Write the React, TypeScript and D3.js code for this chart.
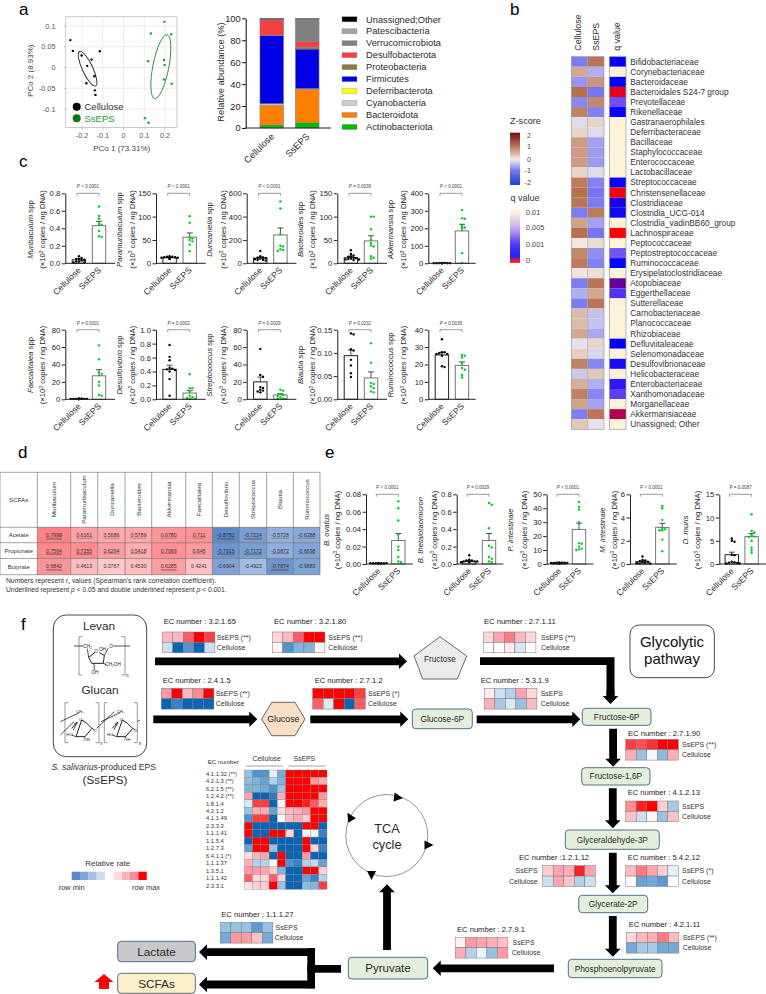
import { useEffect, useRef } from "react";
import * as d3 from "d3";

const FONT = "'Liberation Sans', Arial, sans-serif";
const GROUPS = ["Cellulose", "SsEPS"];

// panel a: PCoA
const pcoaCellulose = [[-0.256, 0.066], [-0.244, 0.04], [-0.202, 0.029], [-0.154, 0.019], [-0.175, 0.004], [-0.114, 0.039], [-0.141, -0.021], [-0.179, -0.038], [-0.138, -0.055], [-0.135, -0.066]];
const pcoaSsEPS = [[0.197, 0.11], [0.132, 0.082], [0.23, 0.08], [0.119, 0.015], [0.195, 0.018], [0.198, 0.006], [0.195, -0.029], [0.232, -0.039], [0.103, -0.122], [0.121, -0.133]];
const pcoaXTicks = [-0.2, -0.1, 0, 0.1, 0.2];
const pcoaYTicks = [-0.1, -0.05, 0, 0.05, 0.1];

// panel a: phyla, bottom of the stack first
const phyla = ["Actinobacteriota", "Bacteroidota", "Cyanobacteria", "Deferribacterota", "Firmicutes", "Proteobacteria", "Desulfobacterota", "Verrucomicrobiota", "Patescibacteria", "Unassigned;Other"];
const phylaColors = ["#00bb00", "#ff7f00", "#cccccc", "#ffff00", "#0000e6", "#8a7a3a", "#f44040", "#808080", "#a4a4a8", "#000000"];
const abundanceCellulose = [2.8, 18, 1.2, 0.1, 62.3, 0.2, 13.9, 0.2, 0.1, 1.2];
const abundanceSsEPS = [4.8, 30.6, 0.3, 0.1, 36.2, 1.7, 5.2, 19.8, 0.3, 0.9];

// panel b: family heatmap
const families = ["Bifidobacteriaceae", "Corynebacteriaceae", "Bacteroidaceae", "Bacteroidales S24-7 group", "Prevotellaceae", "Rikenellaceae", "Gastranaerophilales", "Deferribacteraceae", "Bacillaceae", "Staphylococcaceae", "Enterococcaceae", "Lactobacillaceae", "Streptococcaceae", "Christensenellaceae", "Clostridiaceae", "Clostridia_UCG-014", "Clostridia_vadinBB60_group", "Lachnospiraceae", "Peptococcaceae", "Peptostreptococcaceae", "Ruminococcaceae", "Erysipelatoclostridiaceae", "Atopobiaceae", "Eggerthellaceae", "Sutterellaceae", "Carnobacteriaceae", "Planococcaceae", "Rhizobiaceae", "Defluviitaleaceae", "Selenomonadaceae", "Desulfovibrionaceae", "Helicobacteraceae", "Enterobacteriaceae", "Xanthomonadaceae", "Morganellaceae", "Akkermansiaceae", "Unassigned; Other"];
const zCellulose = [-0.9, 0.55, -0.7, 1, -0.8, 0.85, -0.15, 0.2, 0.65, 0.65, 0.65, 0.2, 0.9, 1, 0.95, -0.9, 0.6, 1, 0.05, 0.8, 0.9, 0.08, -0.9, -0.5, -0.9, 0.4, 0.4, 0.55, -0.1, 0.25, 0.85, -0.3, 0.5, 0.85, 0.6, -0.9, 0.3];
const zSsEPS = [0.95, -0.5, 0.7, -0.95, 0.8, -0.85, 0.2, -0.15, -0.6, -0.65, -0.65, -0.15, -0.85, -0.95, -0.9, 0.9, -0.6, -0.95, 0.15, -0.75, -0.85, 0.12, 0.95, 0.55, 0.95, -0.35, -0.35, -0.55, 0.2, -0.2, -0.8, 0.3, -0.5, -0.8, -0.6, 0.95, -0.1];
const qValues = [0.0002, 0.01, 0.0002, 0.00002, 0.0025, 0.0003, 0.01, 0.01, 0.01, 0.01, 0.01, 0.01, 0.0003, 0.000005, 0.00018, 0.0004, 0.01, 0, 0.01, 0.0026, 0.0003, 0.01, 0.00012, 0.0016, 0.01, 0.01, 0.01, 0.01, 0.0002, 0.01, 0.0005, 0.01, 0.0008, 0.002, 0.01, 0.00006, 0.01];

// panels c and e: qPCR
const qpcrNames = ["Muribaculum", "Paramuribaculum", "Duncaniella", "Bacteroides", "Akkermansia", "Faecalitalea", "Desulfovibrio", "Streptococcus", "Blautia", "Ruminococcus", "B. ovatus", "B. thetaiotaomicron", "P. intestinale", "M. intestinale", "D. muris"];
const qpcrP = ["P < 0.0001", "P < 0.0001", "P < 0.0001", "P = 0.0039", "P < 0.0001", "P = 0.0001", "P = 0.0002", "P = 0.0029", "P = 0.0232", "P = 0.0039", "P < 0.0001", "P = 0.0029", "P < 0.0001", "P < 0.0001", "P = 0.0087"];
const qpcrTicks = [[0, 0.2, 0.4, 0.6, 0.8], [0, 50, 100, 150], [0, 200, 400, 600], [0, 50, 100, 150], [0, 100, 200, 300, 400], [0, 20, 40, 60, 80], [0, 0.2, 0.4, 0.6, 0.8, 1], [0, 20, 40, 60, 80], [0, 0.05, 0.1, 0.15], [0, 10, 20, 30, 40], [0, 0.02, 0.04, 0.06, 0.08], [0, 0.2, 0.4, 0.6, 0.8], [0, 10, 20, 30, 40, 50], [0, 2, 4, 6], [0, 5, 10, 15]];
const qpcrTickFormats = [".1f", "d", "d", "d", "d", "d", ".1f", "d", ".2f", "d", ".2f", ".1f", "d", "d", "d"];
const cellMeans = [0.04, 12, 45, 12, 1, 0.5, 0.43, 20, 0.094, 25.5, 0.0005, 0.03, 0.8, 0.2, 2];
const cellErrors = [0.01, 1, 8, 2, 0.3, 0.1, 0.06, 5.5, 0.012, 1.5, 0.0002, 0.008, 0.1, 0.06, 0.55];
const ssMeans = [0.43, 56, 243, 48, 185, 27, 0.09, 5, 0.046, 19.5, 0.027, 0.27, 24.8, 3.15, 5.9];
const ssErrors = [0.05, 9, 60, 11, 38, 7, 0.035, 1.5, 0.013, 2, 0.008, 0.08, 4.5, 0.35, 0.65];
const cellPoints = [
  [0.08, 0.06, 0.05, 0.05, 0.04, 0.03, 0.02, 0.02, 0.01, 0.01],
  [15, 14, 14, 13, 13, 12, 12, 11, 10, 10],
  [105, 60, 50, 48, 45, 40, 35, 30, 28, 25],
  [28, 20, 17, 15, 14, 12, 11, 10, 9, 8, 8, 7],
  [2, 2, 1, 1, 1, 1, 1, 1, 1, 1],
  [1, 1, 0.5, 0.5, 0.5, 0.5, 0.5, 0.3, 0.3, 0.3],
  [0.78, 0.61, 0.56, 0.45, 0.44, 0.43, 0.42, 0.4, 0.29, 0.05],
  [58, 28, 26, 14, 13, 11, 10, 9, 8],
  [0.142, 0.14, 0.108, 0.105, 0.085, 0.073, 0.056, 0.048],
  [34.5, 27, 27, 26.5, 26, 26, 25, 19, 18.5],
  [0.001, 0.001, 0.001, 0.001, 0.001, 0.001, 0.001, 0.001, 0.001, 0.001],
  [0.1, 0.05, 0.04, 0.04, 0.03, 0.03, 0.03, 0.02, 0.02, 0.02],
  [1.2, 1, 1, 0.9, 0.8, 0.8, 0.7, 0.6, 0.6, 0.5],
  [0.65, 0.35, 0.3, 0.25, 0.2, 0.15, 0.1, 0.08, 0.05, 0.03],
  [5.5, 5, 4.8, 2, 1.9, 0.5, 0.4, 0.3, 0.2, 0.1, 0.1],
];
const ssPoints = [
  [0.65, 0.54, 0.51, 0.45, 0.44, 0.37, 0.31, 0.3],
  [101, 87, 55, 53, 50, 47, 40, 26],
  [530, 470, 250, 150, 145, 120, 115, 105],
  [100, 100, 73, 50, 43, 38, 36, 15, 12, 10],
  [305, 258, 255, 215, 205, 200, 58, 2],
  [62, 46, 31, 29, 20, 16, 5, 4],
  [0.36, 0.16, 0.16, 0.12, 0.05, 0.03, 0.02, 0.01, 0.01],
  [11, 10, 6, 5, 4, 2, 1, 1, 0.5],
  [0.121, 0.079, 0.035, 0.033, 0.028, 0.024, 0.017, 0.015],
  [25.5, 25, 24, 21, 18, 17, 14, 12.5],
  [0.072, 0.064, 0.05, 0.034, 0.02, 0.016, 0.008, 0.003, 0.002],
  [0.7, 0.68, 0.41, 0.21, 0.19, 0.08, 0.06, 0.03, 0.02],
  [44.5, 41, 39, 30, 15, 14.5, 12.5, 11, 10.5, 10],
  [5, 4.8, 3.8, 3.1, 3, 2.9, 2.9, 2.1, 1.1],
  [10.7, 7.1, 6.8, 6.2, 5.9, 5.8, 5, 3.5, 2.9, 2.4],
];

// panel d: correlation table
const tableGenera = ["Muribaculum", "Paramuribaculum", "Duncaniella", "Bacteroides", "Akkermansia", "Faecalitalea", "Desulfovibrio", "Streptococcus", "Blautia", "Ruminococcus"];
const tableAcids = ["Acetate", "Propionate", "Butyrate"];
const tableText = [
  ["0.7998", "0.6161", "0.5686", "0.5789", "0.6780", "0.711", "-0.8782", "-0.7234", "-0.5728", "-0.6388"],
  ["0.7564", "0.7255", "0.6264", "0.5418", "0.7069", "0.645", "-0.7915", "-0.7172", "-0.5872", "-0.6698"],
  ["0.6842", "0.4613", "0.3767", "0.4530", "0.6285", "0.4241", "-0.6904", "-0.4923", "-0.7874", "-0.6883"],
];
const tableUnderlines = [
  [2, 1, 1, 1, 1, 1, 2, 2, 1, 1],
  [2, 2, 1, 1, 1, 1, 2, 2, 1, 1],
  [2, 0, 0, 0, 2, 0, 0, 0, 2, 0],
];

// panel f: five-sample heatmaps, one per enzyme
const enzymeNames = ["3.2.1.65", "3.2.1.80", "2.7.1.11", "2.4.1.5", "2.7.1.2", "5.3.1.9", "2.7.1.90", "4.1.2.13", "1.2.1.12", "5.4.2.12", "4.2.1.11", "2.7.9.1", "1.1.1.27"];
const enzymeStars = ["(**)", "(**)", "(**)", "(**)", "(*)", "", "(**)", "", "", "(*)", "(**)", "", ""];
const enzymeSsEPS = [
  [0.35, 0.35, 0.7, 1, 0.8], [0.2, 0.35, 0.7, 1, 1], [0.2, 0.45, 0.6, 0.35, 0.2], [0.5, 1, 0.35, 0.55, 1], [1, 1, 1, 1, 0.8], [0.1, -0.2, -0.3, 0.45, 0.2],
  [0.8, 0.75, 0.85, 1, 1], [0.55, 0.9, 1, 0.25, -0.35], [0.25, 0.45, 0.4, 0.9, 0.45], [0.35, 0.6, 0.45, 0.25, -0.1], [0.2, 0.35, 0.4, 0.6, 0.35], [0.07, 0.5, 0.45, 0.4, 0.3], [-0.4, -0.4, -0.4, -0.65, -0.4],
];
const enzymeCellulose = [
  [-0.2, -1, -0.7, -1, -0.2], [0.05, -0.7, -0.5, -0.5, 0.05], [0, 0, 0.1, -0.15, 0], [-1, -0.8, -1, -1, -1], [0.7, -0.15, 1, -1, 0.7], [0.4, -0.35, -0.15, -0.4, 0.35],
  [0.4, -0.4, -0.05, -0.45, 0.4], [0.3, -0.2, 0.05, -0.4, 0.3], [-0.2, 0.45, 0.3, -0.3, -0.2], [0, -0.6, -0.55, -0.65, 0], [-0.55, -0.35, -0.35, -0.55, -0.55], [0.4, -0.3, -0.08, -0.4, 0.5], [-0.55, 0.5, 0.5, 0.3, -0.55],
];
// left, top, label x, label y, row-label x (negative means right-aligned)
const enzymeBoxes = [
  [162.3, 632, 163.7, 624.3, 216.7], [272.3, 632, 274, 624.3, 328.3], [483.3, 632, 484, 624.3, 541],
  [161.3, 688.3, 162.7, 683.3, 215.7], [312.7, 688.3, 314.7, 683.3, 368], [484.3, 688.3, 480.7, 683.3, 540.7],
  [625.7, 739.3, 628, 735.7, 682], [625.7, 801, 627.7, 795.3, 682], [542.7, 865.7, 519, 860.3, -537.7],
  [625.7, 865.7, 627.7, 860.3, 682], [626.3, 932.3, 628.7, 927, 682.7], [455.3, 937.3, 457, 931.7, 512.5], [220.3, 922.3, 221.3, 916.7, 275.5],
];

const tcaEnzymes = ["4.1.1.32 (**)", "4.2.1.3 (**)", "6.2.1.5 (**)", "1.2.4.2 (**)", "1.8.1.4", "4.2.1.2", "4.1.1.49", "2.3.3.3", "1.1.1.41", "1.1.5.4", "1.2.7.3", "6.4.1.1 (*)", "1.1.1.37", "1.3.5.1", "1.1.1.42", "2.3.3.1"];
const tcaRates = [
  [-0.4, -0.7, -0.7, -0.1, -0.55, 1, 1, 1, 1, 1],
  [-0.45, -0.5, -0.6, -0.3, -0.5, 1, 1, 1, 0.5, 0.4],
  [-0.5, -0.5, -0.55, -0.7, -0.4, 1, 1, 1, 1, 1],
  [0.45, -1, -1, -0.85, 0.4, 1, 1, 1, 1, 0.5],
  [-0.15, 0.8, 0.8, -1, -0.05, 1, 1, 0.9, 0.7, 0.4],
  [-0.4, 0.4, 0.4, -0.6, 0.2, 0.35, 0.4, 0.5, 1, 1],
  [-0.7, 0.8, 0.8, -1, -0.02, 0.35, 0.4, 0.25, 1, 1],
  [1, -1, -1, -1, -1, -1, -1, 1, 1, -1],
  [1, -1, -1, 1, 1, 0.2, -1, -0.05, -0.08, -0.8],
  [-1, 1, 1, -1, -1, -1, -1, 1, -1, -1],
  [-0.6, 1, 1, -0.4, -1, -1, -1, 1, 0.2, -0.8],
  [0.15, 0.35, 0.45, -1, 1, -1, -1, 0.5, -1, -1],
  [0.4, -0.3, -0.3, -0.02, 1, -0.7, -0.8, -0.3, -0.25, -0.6],
  [0.5, 0.5, 0.45, 0.25, -0.5, -1, -1, 1, 1, 0.25],
  [0.7, 0.2, 0.2, 0.7, 0.25, -1, -1, -0.6, -0.8, -0.3],
  [0.15, 0.25, 0.25, 1, -0.4, -1, -1, -0.45, -0.5, 0.8],
];
const rateLegendColors = ["#5b88c8", "#80a4d8", "#a8c0e4", "#d0dcf0", "#ffffff", "#fcdce0", "#fcb4bc", "#fc8c98", "#ff0000"];

type Sel = d3.Selection<any, any, any, any>;

const addText = (g: Sel, x: number, y: number, s: string, size: number, o: any = {}) => {
  const t = g
    .append("text")
    .attr("x", x)
    .attr("y", y)
    .attr("font-size", size)
    .attr("text-anchor", o.anchor || "start")
    .attr("fill", o.fill || "#2a2a2a")
    .text(s);
  if (o.rotate) t.attr("transform", `rotate(${o.rotate} ${x} ${y})`);
  if (o.italic) t.attr("font-style", "italic");
  return t;
};

// block arrow from (x1,y1) to the tip at (x2,y2)
const blockArrow = (g: Sel, x1: number, y1: number, x2: number, y2: number) => {
  const len = Math.hypot(x2 - x1, y2 - y1);
  const angle = (Math.atan2(y2 - y1, x2 - x1) * 180) / Math.PI;
  const w = 3.9;
  const head = 8;
  const half = 7.8;
  const pts = [[0, -w], [len - head, -w], [len - head, -half], [len, 0], [len - head, half], [len - head, w], [0, w]];
  g.append("polygon")
    .attr("points", pts.join(" "))
    .attr("transform", `translate(${x1},${y1}) rotate(${angle})`)
    .attr("fill", "#000");
};

const stepBox = (g: Sel, x0: number, x1: number, y0: number, y1: number, label: string, fill = "#e4efdb", size = 8.4) => {
  g.append("rect")
    .attr("x", x0).attr("y", y0)
    .attr("width", x1 - x0).attr("height", y1 - y0)
    .attr("rx", 3.5)
    .attr("fill", fill)
    .attr("stroke", "#44607a")
    .attr("stroke-width", 0.9);
  addText(g, (x0 + x1) / 2, (y0 + y1) / 2 + size * 0.36, label, size, { anchor: "middle" });
};

// horizontal offsets so that dots with close values sit side by side
const swarm = (values: number[], y: d3.ScaleLinear<number, number>) => {
  const placed: { v: number; dx: number }[] = [];
  const step = 2.7;
  [...values].sort((a, b) => b - a).forEach((v) => {
    const slots = [0, 1, -1, 2, -2, 3, -3];
    const k = slots.find((s) => !placed.some((p) => Math.abs(y(p.v) - y(v)) < 2.3 && Math.abs(p.dx - s * step) < 2.5));
    placed.push({ v, dx: (k ?? 0) * step });
  });
  return placed;
};

const zColor = d3.scaleLinear<string>().domain([-2, -1, 0, 1, 2]).range(["#1d3fd0", "#6f6ff4", "#f3eee9", "#b86f4c", "#7a1010"]);
const qColor = d3.scaleLinear<string>().domain([0, 0.0002, 0.001, 0.005, 0.01]).range(["#ff0000", "#0000ff", "#3a20f0", "#c8a0f0", "#fdf2d8"]);
const rateColor = d3.scaleLinear<string>().domain([-1, -0.5, 0, 0.5, 1]).range(["#0a64b4", "#7fb2dd", "#ffffff", "#ff9aa5", "#ff0000"]);
const tableColor = d3.scaleLinear<string>().domain([-0.9, -0.45, 0, 0.4, 0.8]).range(["#5a86c6", "#a9c1e5", "#ffffff", "#ffc6c8", "#ff8085"]);

const drawPcoa = (svg: Sel) => {
  const g = svg.append("g");
  const x = d3.scaleLinear().domain([-0.2, 0.2]).range([82, 165]);
  const y = d3.scaleLinear().domain([-0.1, 0.1]).range([109, 26]);
  const [left, right, top, bottom] = [65.7, 177, 16.7, 127.5];
  const grid = "#ececec";
  pcoaXTicks.forEach((t) => {
    g.append("line").attr("x1", x(t)).attr("x2", x(t)).attr("y1", top).attr("y2", bottom).attr("stroke", grid);
    addText(g, x(t), 137.7, String(t), 7.3, { anchor: "middle", fill: "#555" });
    g.append("line").attr("x1", x(t)).attr("x2", x(t)).attr("y1", bottom).attr("y2", bottom + 2).attr("stroke", "#999").attr("stroke-width", 0.6);
  });
  pcoaYTicks.forEach((t) => {
    g.append("line").attr("x1", left).attr("x2", right).attr("y1", y(t)).attr("y2", y(t)).attr("stroke", grid);
    addText(g, 55.5, y(t) + 2.6, String(t), 7.3, { anchor: "end", fill: "#555" });
    g.append("line").attr("x1", left - 2).attr("x2", left).attr("y1", y(t)).attr("y2", y(t)).attr("stroke", "#999").attr("stroke-width", 0.6);
  });
  g.append("path")
    .attr("d", `M${left},${top}V${bottom}H${right}V${top}H${left}`)
    .attr("fill", "none")
    .attr("stroke", "#bbb")
    .attr("stroke-width", 0.8);
  addText(g, 121.7, 151, "PCo 1 (73.31%)", 8, { anchor: "middle", fill: "#444" });
  addText(g, 33.5, 70.7, "PCo 2 (8.93%)", 8, { anchor: "middle", fill: "#444", rotate: -90 });

  // 95% ellipses
  g.append("ellipse")
    .attr("cx", x(-0.173)).attr("cy", y(-0.003))
    .attr("rx", 5.2).attr("ry", 19)
    .attr("transform", `rotate(-25 ${x(-0.173)} ${y(-0.003)})`)
    .attr("fill", "none").attr("stroke", "#222").attr("stroke-width", 0.9);
  g.append("ellipse")
    .attr("cx", x(0.18)).attr("cy", y(0.002))
    .attr("rx", 8).attr("ry", 32.5)
    .attr("transform", `rotate(11 ${x(0.18)} ${y(0.002)})`)
    .attr("fill", "none").attr("stroke", "#2c8a3c").attr("stroke-width", 0.9);

  g.selectAll(".pc").data(pcoaCellulose).enter().append("circle")
    .attr("cx", (d) => x(d[0])).attr("cy", (d) => y(d[1])).attr("r", 1.2).attr("fill", "#000");
  g.selectAll(".ps").data(pcoaSsEPS).enter().append("circle")
    .attr("cx", (d) => x(d[0])).attr("cy", (d) => y(d[1])).attr("r", 1.2).attr("fill", "#1f9a2a");

  g.append("circle").attr("cx", 76.7).attr("cy", 106.7).attr("r", 4).attr("fill", "#000");
  g.append("circle").attr("cx", 76.7).attr("cy", 118.2).attr("r", 4).attr("fill", "#007a10");
  addText(g, 84.5, 110, "Cellulose", 9.5, { fill: "#333" });
  addText(g, 84.5, 121.5, "SsEPS", 9.5, { fill: "#2a9a34" });
};

const drawStack = (svg: Sel) => {
  const g = svg.append("g");
  const x = d3.scalePoint<string>().domain(GROUPS).range([271.8, 307.2]);
  const y = d3.scaleLinear().domain([0, 100]).range([128, 18.3]);
  const rows = GROUPS.map((name, i) => {
    const row: any = { name };
    phyla.forEach((p, k) => (row[p] = (i === 0 ? abundanceCellulose : abundanceSsEPS)[k]));
    return row;
  });
  const stack = d3.stack<any>().keys(phyla)(rows);
  stack.forEach((layer, k) => {
    g.selectAll(`.s${k}`).data(layer).enter().append("rect")
      .attr("x", (d) => (x(d.data.name) as number) - 11.85)
      .attr("width", 23.7)
      .attr("y", (d) => y(d[1]))
      .attr("height", (d) => y(d[0]) - y(d[1]))
      .attr("fill", phylaColors[k])
      .attr("stroke", "#8a8a8a")
      .attr("stroke-width", k === 2 || k === 3 || k === 8 ? 0.3 : 0.6);
  });
  const axis = g.append("g").attr("transform", "translate(245.7,0)")
    .call(d3.axisLeft(y).tickValues([0, 20, 40, 60, 80, 100]).tickSize(3.5).tickSizeOuter(0).tickPadding(1.5) as any);
  axis.attr("font-size", 9.3).attr("font-family", FONT);
  axis.selectAll("text").attr("fill", "#222");
  g.append("line").attr("x1", 245.2).attr("x2", 331).attr("y1", 128).attr("y2", 128).attr("stroke", "#222");
  addText(g, 224, 72, "Relative abundance (%)", 9.3, { anchor: "middle", rotate: -90 });
  GROUPS.forEach((name) => {
    addText(g, (x(name) as number) + 3, 137, name, 9.3, { anchor: "end", rotate: -45 });
  });
  // legend, top row is the top of the stack
  [...phyla].reverse().forEach((p, i) => {
    const c = phylaColors[phyla.length - 1 - i];
    const yy = 19.3 + i * 11.96;
    g.append("rect").attr("x", 342).attr("y", yy - 2.6).attr("width", 15).attr("height", 5.2).attr("fill", c).attr("stroke", "#999").attr("stroke-width", 0.4);
    addText(g, 366, yy + 3.2, p, 9.3);
  });
};

const drawFamilyHeatmap = (svg: Sel) => {
  const g = svg.append("g");
  const y = d3.scaleBand<number>().domain(d3.range(families.length)).range([56.7, 429.3]);
  const cw = 16.35;
  families.forEach((name, i) => {
    const yy = y(i) as number;
    const h = y.bandwidth();
    g.append("rect").attr("x", 571.3).attr("y", yy).attr("width", cw).attr("height", h).attr("fill", zColor(zCellulose[i]));
    g.append("rect").attr("x", 571.3 + cw).attr("y", yy).attr("width", cw).attr("height", h).attr("fill", zColor(zSsEPS[i]));
    g.append("rect").attr("x", 609.3).attr("y", yy).attr("width", 16.7).attr("height", h).attr("fill", qColor(qValues[i]));
    addText(g, 630.3, yy + h / 2 + 2.9, name, 8.3, { fill: "#333" });
  });
  g.append("rect").attr("x", 571.3).attr("y", 56.7).attr("width", cw * 2).attr("height", 372.6).attr("fill", "none").attr("stroke", "#999").attr("stroke-width", 0.7);
  g.append("line").attr("x1", 571.3 + cw).attr("x2", 571.3 + cw).attr("y1", 56.7).attr("y2", 429.3).attr("stroke", "#999").attr("stroke-width", 0.5);
  g.append("rect").attr("x", 609.3).attr("y", 56.7).attr("width", 16.7).attr("height", 372.6).attr("fill", "none").attr("stroke", "#999").attr("stroke-width", 0.7);

  addText(g, 581.5, 50.7, "Cellulose", 8.8, { rotate: -90 });
  addText(g, 599.5, 50.7, "SsEPS", 8.8, { rotate: -90 });
  addText(g, 620.5, 50.7, "q value", 8.8, { rotate: -90 });

  // Z-score legend
  addText(g, 510, 124, "Z-score", 9.1, { fill: "#333" });
  const zPos = d3.scaleLinear().domain([135, 146, 159, 170, 182]).range([2, 1, 0, -1, -2]);
  d3.range(132.7, 184, 1).forEach((yy) => {
    g.append("rect").attr("x", 510).attr("y", yy).attr("width", 10).attr("height", 1.2).attr("fill", zColor(zPos(yy)));
  });
  [[2, 135], [1, 146], [0, 159], [-1, 170], [-2, 182]].forEach(([v, yy]) => {
    addText(g, 531, yy + 2.6, String(v), 7.3, { anchor: "end", fill: "#444" });
  });

  // q value legend
  addText(g, 510.5, 201, "q value", 9, { fill: "#333" });
  const qPos = d3.scaleLinear().domain([212, 227, 244, 258, 261]).range([0.01, 0.005, 0.001, 0.0001, 0]).clamp(true);
  d3.range(209.6, 262, 1).forEach((yy) => {
    g.append("rect").attr("x", 510).attr("y", yy).attr("width", 10).attr("height", 1.2).attr("fill", qColor(qPos(yy)));
  });
  [["0.01", 212], ["0.005", 227], ["0.001", 244], ["0", 260.7]].forEach(([v, yy]) => {
    addText(g, 526, (yy as number) + 2.6, v as string, 7.3, { fill: "#444" });
  });
};

const drawQpcr = (svg: Sel, i: number, axisX: number, top: number, bottom: number, off1: number, off2: number, xSpan: number, midY: number, spp: boolean) => {
  const g = svg.append("g");
  const narrow = i >= 10;
  const x = d3.scalePoint<string>().domain(GROUPS).range(narrow ? [axisX + 12.5, axisX + 32.3] : [axisX + 13.6, axisX + 33.7]);
  const ticks = qpcrTicks[i];
  const y = d3.scaleLinear().domain([0, ticks[ticks.length - 1]]).range([bottom, top]);
  const fmt = qpcrTickFormats[i] === "d" ? d3.format("d") : d3.format(qpcrTickFormats[i]);

  GROUPS.forEach((name, k) => {
    const cx = x(name) as number;
    const mean = (k === 0 ? cellMeans : ssMeans)[i];
    const err = (k === 0 ? cellErrors : ssErrors)[i];
    const pts = (k === 0 ? cellPoints : ssPoints)[i];
    g.append("rect")
      .attr("x", cx - 6.7).attr("width", 13.4)
      .attr("y", y(mean)).attr("height", bottom - y(mean))
      .attr("fill", "#fff")
      .attr("stroke", k === 0 ? "#222" : "#777")
      .attr("stroke-width", 1);
    g.append("path")
      .attr("d", `M${cx},${y(mean)}V${y(mean + err)}M${cx - 3},${y(mean + err)}H${cx + 3}`)
      .attr("fill", "none").attr("stroke", "#222").attr("stroke-width", 0.8);
    g.selectAll(".d").data(swarm(pts, y)).enter().append("circle")
      .attr("cx", (d) => cx + d.dx).attr("cy", (d) => y(d.v)).attr("r", 1.2)
      .attr("fill", k === 0 ? "#000" : "#00cc22");
    addText(g, cx + 2.5, bottom + 7.5, name, 8.6, { anchor: "end", rotate: -45, fill: "#333" });
  });

  const axis = g.append("g").attr("transform", `translate(${axisX},0)`)
    .call(d3.axisLeft(y).tickValues(ticks).tickFormat(fmt as any).tickSize(3.5).tickSizeOuter(0).tickPadding(1.5) as any);
  axis.attr("font-size", 7.7).attr("font-family", FONT);
  axis.selectAll("text").attr("fill", "#222");
  axis.selectAll("line").attr("stroke", "#222");
  axis.select(".domain").attr("stroke", "#222");
  g.append("line").attr("x1", axisX).attr("x2", axisX + xSpan).attr("y1", bottom).attr("y2", bottom).attr("stroke", "#222");

  // significance bracket
  const right = x("SsEPS") as number;
  g.append("path")
    .attr("d", `M${right - 22},${top + 2.5}V${top}H${right}V${top + 2.5}`)
    .attr("fill", "none").attr("stroke", "#555").attr("stroke-width", 0.6);
  const p = addText(g, right - 11, top - 5, "", 4.6, { anchor: "middle", fill: "#444" });
  p.append("tspan").attr("font-style", "italic").text("P");
  p.append("tspan").text(qpcrP[i].slice(1));

  // two-line y title
  const l1 = addText(g, axisX + off1, midY, "", 7.7, { anchor: "middle", rotate: -90, fill: "#222" });
  l1.append("tspan").attr("font-style", "italic").text(qpcrNames[i]);
  if (spp) l1.append("tspan").text(" spp");
  const l2 = addText(g, axisX + off2, midY, "", 7.7, { anchor: "middle", rotate: -90, fill: "#222" });
  l2.append("tspan").text("(×10");
  l2.append("tspan").attr("font-size", 5).attr("dy", -2.6).text("3");
  l2.append("tspan").attr("dy", 2.6).text(" copies / ng DNA)");
};

const drawTable = (svg: Sel) => {
  const g = svg.append("g");
  const cols = [0, 37.3, 70.7, 97.7, 125, 151.7, 185.7, 212.3, 239.3, 266.7, 293.3, 320];
  const rows = [472.3, 527.3, 542.7, 558.5, 574.7];
  tableText.forEach((row, r) => {
    row.forEach((s, c) => {
      g.append("rect")
        .attr("x", cols[c + 1]).attr("y", rows[r + 1])
        .attr("width", cols[c + 2] - cols[c + 1]).attr("height", rows[r + 2] - rows[r + 1])
        .attr("fill", tableColor(+s));
      const cx = (cols[c + 1] + cols[c + 2]) / 2;
      const cy = rows[r + 1] + 9.9;
      const t = addText(g, cx, cy, s, 5.2, { anchor: "middle", fill: "#333" });
      const w = (t.node() as SVGTextElement).getComputedTextLength();
      const u = tableUnderlines[r][c];
      if (u >= 1) g.append("line").attr("x1", cx - w / 2).attr("x2", cx + w / 2).attr("y1", cy + 1).attr("y2", cy + 1).attr("stroke", "#444").attr("stroke-width", 0.4);
      if (u === 2) g.append("line").attr("x1", cx - w / 2).attr("x2", cx + w / 2).attr("y1", cy + 2).attr("y2", cy + 2).attr("stroke", "#444").attr("stroke-width", 0.4);
    });
  });
  cols.forEach((c) => g.append("line").attr("x1", c).attr("x2", c).attr("y1", rows[0]).attr("y2", rows[4]).attr("stroke", "#666").attr("stroke-width", 0.6));
  rows.forEach((r) => g.append("line").attr("x1", 0).attr("x2", 320).attr("y1", r).attr("y2", r).attr("stroke", "#666").attr("stroke-width", 0.6));
  addText(g, 18.7, 502, "SCFAs", 6.2, { anchor: "middle", fill: "#333" });
  tableGenera.forEach((name, c) => {
    addText(g, (cols[c + 1] + cols[c + 2]) / 2 + 2.2, 499.5, name, 6.2, { anchor: "middle", rotate: -90, fill: "#333" });
  });
  tableAcids.forEach((name, r) => {
    addText(g, 18.7, rows[r + 1] + 10, name, 5.9, { anchor: "middle", fill: "#333" });
  });
  const n1 = addText(g, 6, 583, "Numbers represent ", 6.75, { fill: "#333" });
  n1.append("tspan").attr("font-style", "italic").text("r");
  n1.append("tspan").attr("font-size", 4.4).attr("dy", 1.4).text("s");
  n1.append("tspan").attr("dy", -1.4).text(" values (Spearman's rank correlation coefficient).");
  const n2 = addText(g, 6, 591.7, "Underlined represent ", 6.75, { fill: "#333" });
  n2.append("tspan").attr("font-style", "italic").text("p");
  n2.append("tspan").text(" < 0.05 and double underlined represent ");
  n2.append("tspan").attr("font-style", "italic").text("p");
  n2.append("tspan").text(" < 0.001.");
};

const drawEnzyme = (svg: Sel, i: number) => {
  const g = svg.append("g");
  const [left, top, lx, ly, rowX] = enzymeBoxes[i];
  const x = d3.scaleBand<number>().domain(d3.range(5)).range([left, left + 52.6]);
  const y = d3.scaleBand<number>().domain([0, 1]).range([top, top + 20.8]);
  [enzymeSsEPS[i], enzymeCellulose[i]].forEach((row, r) => {
    row.forEach((v, c) => {
      g.append("rect")
        .attr("x", x(c) as number).attr("y", y(r) as number)
        .attr("width", x.bandwidth()).attr("height", y.bandwidth())
        .attr("fill", rateColor(v))
        .attr("stroke", "#7a7a7a").attr("stroke-width", 0.5);
    });
  });
  const sep = i === 8 ? " :" : " : ";
  addText(g, lx, ly, `EC number${sep}${enzymeNames[i]}`, 7.6, { fill: "#222" });
  const anchor = rowX < 0 ? "end" : "start";
  const star = enzymeStars[i];
  addText(g, Math.abs(rowX), top + 7.6, `SsEPS${star ? " " + star : ""}`, 7, { anchor, fill: "#333" });
  addText(g, Math.abs(rowX) - (i >= 11 ? 0.8 : 0), top + 18, "Cellulose", 7, { anchor, fill: "#333" });
};

const drawTcaHeatmap = (svg: Sel) => {
  const g = svg.append("g");
  const x = d3.scaleBand<number>().domain(d3.range(10)).range([244.3, 327]);
  const y = d3.scaleBand<number>().domain(d3.range(tcaEnzymes.length)).range([770, 889.3]);
  tcaRates.forEach((row, r) => {
    row.forEach((v, c) => {
      g.append("rect")
        .attr("x", x(c) as number).attr("y", y(r) as number)
        .attr("width", x.bandwidth()).attr("height", y.bandwidth())
        .attr("fill", rateColor(v))
        .attr("stroke", "#777").attr("stroke-width", 0.3);
    });
    addText(g, 206, (y(r) as number) + y.bandwidth() / 2 + 2, tcaEnzymes[r], 5.8, { fill: "#333" });
  });
  addText(g, 207.7, 764, "EC number", 6.2, { fill: "#333" });
  addText(g, 266.7, 761, "Cellulose", 6.9, { anchor: "middle", fill: "#333" });
  addText(g, 304.3, 761, "SsEPS", 6.9, { anchor: "middle", fill: "#333" });
  g.append("line").attr("x1", 245.7).attr("x2", 283).attr("y1", 766).attr("y2", 766).attr("stroke", "#666").attr("stroke-width", 0.6);
  g.append("line").attr("x1", 288).attr("x2", 325.7).attr("y1", 766).attr("y2", 766).attr("stroke", "#666").attr("stroke-width", 0.6);

  // relative rate legend
  addText(g, 107.8, 866, "Relative  rate", 8, { anchor: "middle", fill: "#333" });
  rateLegendColors.forEach((c, i) => {
    g.append("rect").attr("x", 71.7 + i * 8.33).attr("y", 871.7).attr("width", 8.4).attr("height", 8.3).attr("fill", c);
  });
  addText(g, 71.7, 890, "row min", 7.4, { anchor: "middle", fill: "#333" });
  addText(g, 146, 890, "row max", 7.4, { anchor: "middle", fill: "#333" });
};

// polymer sketches, in a 3x space
const drawPolymers = (svg: Sel) => {
  const outer = svg.append("g");
  outer.append("rect").attr("x", 53.3).attr("y", 615).attr("width", 93.4).attr("height", 141.7).attr("rx", 13)
    .attr("fill", "#fff").attr("stroke", "#333").attr("stroke-width", 0.9);
  addText(outer, 99, 630, "Levan", 11.7, { anchor: "middle" });
  addText(outer, 100, 694, "Glucan", 11.7, { anchor: "middle" });
  addText(outer, 103.7, 770, "", 8.6, { anchor: "middle", fill: "#333" })
    .call((t: Sel) => {
      t.append("tspan").attr("font-style", "italic").text("S. salivarius");
      t.append("tspan").text("-produced EPS");
    });
  addText(outer, 105, 784, "(SsEPS)", 11.7, { anchor: "middle" });

  const g = outer.append("g").attr("transform", "translate(0,620) scale(0.3333)");
  const line = (d: string, w = 2.4, c = "#222") => g.append("path").attr("d", d).attr("fill", "none").attr("stroke", c).attr("stroke-width", w);
  const label = (x: number, y: number, s: string, size = 14) => addText(g, x, y, s, size, { fill: "#222" });
  // levan
  line("M247,50H237V165H247M365,50H375V165H365", 2, "#666");
  line("M222,78H250M262,86L266,112M340,78H390");
  line("M266,112L285,97M298,98L313,106L310,130L275,130L266,112", 3);
  line("M313,106L325,84M310,130L320,135M282,130L283,150");
  label(250, 84, "CH₂");
  label(297, 92, "OH");
  label(328, 84, "O");
  label(283, 100, "O");
  label(316, 138, "CH₂OH");
  label(274, 162, "OH");
  label(378, 170, "n");
  // glucan
  line("M205,248H195V368H205M287,248H297V368H287M323,248H313V368H323M402,248H412V368H402", 2, "#666");
  [0, 122].forEach((dx) => {
    const d = `M${215 + dx},325L${232 + dx},306M${245 + dx},300L${258 + dx},308L${276 + dx},325L${255 + dx},350L${228 + dx},350Z`;
    line(d, 3);
    line(`M${181 + dx},305L${238 + dx},278M${276 + dx},325L${284 + dx},330M${255 + dx},350L${255 + dx},355M${228 + dx},350L${215 + dx},345M${232 + dx},306L${220 + dx},330`);
    label(228 + dx, 279, "CH₂", 13);
    label(222 + dx, 314, "O", 13);
    label(237 + dx, 303, "O", 13);
    label(250 + dx, 364, "OH", 13);
    label(199 + dx, 347, "HO", 13);
    label(280 + dx, 337, "O", 13);
  });
  line("M181,345L222,305");
  line("M290,325L343,275M412,305L420,300");
  label(300, 374, "n");
  label(416, 374, "n");
};

const drawPathway = (svg: Sel) => {
  const g = svg.append("g");
  // top row
  blockArrow(g, 155, 661.3, 407, 661.3);
  blockArrow(g, 153.3, 719.3, 257.3, 719.3);
  blockArrow(g, 310.3, 719.3, 408.3, 719.3);
  blockArrow(g, 476.7, 719.3, 580.3, 719.3);
  g.append("polygon")
    .attr("points", "480,657.3 614.5,657.3 614.5,700 606.5,700 606.5,665 480,665")
    .attr("fill", "#000");
  blockArrow(g, 610.5, 690, 610.5, 704);

  g.append("polygon")
    .attr("points", "440,636.7 466.7,656 457.3,679 422.7,679 414,656")
    .attr("fill", "#ececec").attr("stroke", "#444").attr("stroke-width", 0.8);
  addText(g, 440, 662, "Fructose", 8.2, { anchor: "middle" });
  g.append("polygon")
    .attr("points", "261.7,719 271.7,702.3 295,702.3 305,719 295,735.7 271.7,735.7")
    .attr("fill", "#f9dfc8").attr("stroke", "#444").attr("stroke-width", 0.8);
  addText(g, 283.3, 722.3, "Glucose", 8.8, { anchor: "middle" });

  stepBox(g, 412.3, 472.3, 709, 728.7, "Glucose-6P");
  stepBox(g, 582.3, 651, 708.3, 725.3, "Fructose-6P");
  stepBox(g, 581.7, 650, 767.7, 785, "Fructose-1,6P");
  stepBox(g, 565.3, 659.3, 830, 849.3, "Glyceraldehyde-3P");
  stepBox(g, 578.7, 647.7, 895.3, 912.7, "Glycerate-2P");
  stepBox(g, 568.3, 662, 959.3, 977.7, "Phosphoenolpyruvate");
  stepBox(g, 348.3, 427.7, 957.3, 979, "Pyruvate", "#e4efdb", 11.5);
  stepBox(g, 117.7, 195.3, 941.3, 961.7, "Lactate", "#c9c9cd", 11.8);
  stepBox(g, 117.7, 195.3, 973.3, 993.3, "SCFAs", "#fdf0c8", 11.8);

  blockArrow(g, 613.1, 728.7, 613.1, 766.7);
  blockArrow(g, 612.8, 788.3, 612.8, 828.3);
  blockArrow(g, 612.8, 852.7, 612.8, 893.3);
  blockArrow(g, 612.8, 916, 612.8, 956.7);
  blockArrow(g, 554, 968.3, 432.7, 968.3);
  blockArrow(g, 387, 950, 387, 884.3);

  // Pyruvate fork to lactate and SCFAs
  g.append("rect").attr("x", 307.3).attr("y", 965).attr("width", 33.7).attr("height", 7.7).attr("fill", "#000");
  g.append("rect").attr("x", 307.3).attr("y", 948.3).attr("width", 7.7).attr("height", 40).attr("fill", "#000");
  blockArrow(g, 315, 952.1, 199, 952.1);
  blockArrow(g, 315, 984.5, 199, 984.5);

  // SCFA up arrow
  g.append("polygon")
    .attr("points", "104,974 113.5,982 109,982 109,989 99,989 99,982 94.5,982")
    .attr("fill", "#ff0000");

  // TCA cycle
  g.append("circle").attr("cx", 386.8).attr("cy", 835.5).attr("r", 41).attr("fill", "none").attr("stroke", "#666").attr("stroke-width", 0.7);
  [[398, 797.5, 8], [428.5, 845, 0], [371.5, 875, 90], [350, 817, -120]].forEach(([x, y, a]) => {
    g.append("polygon").attr("points", "-4,-4.5 5,0 -4,4.5")
      .attr("transform", `translate(${x},${y}) rotate(${a})`).attr("fill", "#000");
  });
  addText(g, 387, 833, "TCA", 12.8, { anchor: "middle" });
  addText(g, 387, 849.3, "cycle", 12.8, { anchor: "middle" });

  // Glycolytic pathway label
  g.append("rect").attr("x", 630).attr("y", 625).attr("width", 84.3).attr("height", 52.7).attr("rx", 9)
    .attr("fill", "#fff").attr("stroke", "#333").attr("stroke-width", 0.9);
  addText(g, 672, 646.7, "Glycolytic", 15, { anchor: "middle", fill: "#111" });
  addText(g, 672, 664.3, "pathway", 15, { anchor: "middle", fill: "#111" });
};

export default function App() {
  const ref = useRef<SVGSVGElement>(null);

  useEffect(() => {
    const svg = d3.select(ref.current) as unknown as Sel;
    svg.selectAll("*").remove();
    svg.attr("font-family", FONT);

    [["a", 19, 15], ["b", 510, 15], ["c", 19, 167], ["d", 18, 458], ["e", 325, 458], ["f", 21, 630]].forEach(([s, x, y]) => {
      addText(svg, x as number, y as number, s as string, 17, { fill: "#000" });
    });

    drawPcoa(svg);
    drawStack(svg);
    drawFamilyHeatmap(svg);

    const axisC = [65.3, 156, 246.7, 337.3, 428.3];
    const offC = [[-32, -20], [-34.3, -21], [-35, -21], [-34.6, -22], [-35, -22]];
    const spanC = [49.7, 49.7, 49.7, 49.7, 47.4];
    axisC.forEach((ax, k) => {
      drawQpcr(svg, k, ax, 193.3, 263.3, offC[k][0], offC[k][1], spanC[k], 229.5, true);
      drawQpcr(svg, k + 5, ax, 329.7, 399.3, offC[k][0], offC[k][1], spanC[k], 365, true);
    });
    const axisE = [366, 456.7, 546.7, 630, 719.3];
    const offE = [[-37, -26], [-33.7, -20], [-33.7, -20], [-25, -13], [-31, -19]];
    axisE.forEach((ax, k) => {
      drawQpcr(svg, k + 10, ax, 494.3, 564, offE[k][0], offE[k][1], 46.7, 530, false);
    });

    drawTable(svg);
    drawPolymers(svg);
    drawPathway(svg);
    enzymeNames.forEach((_, i) => drawEnzyme(svg, i));
    drawTcaHeatmap(svg);
  }, []);

  return (
    <svg
      ref={ref}
      width={766}
      height={994}
      style={{ position: "absolute", left: 0, top: 0, display: "block", background: "#fff" }}
    />
  );
}
